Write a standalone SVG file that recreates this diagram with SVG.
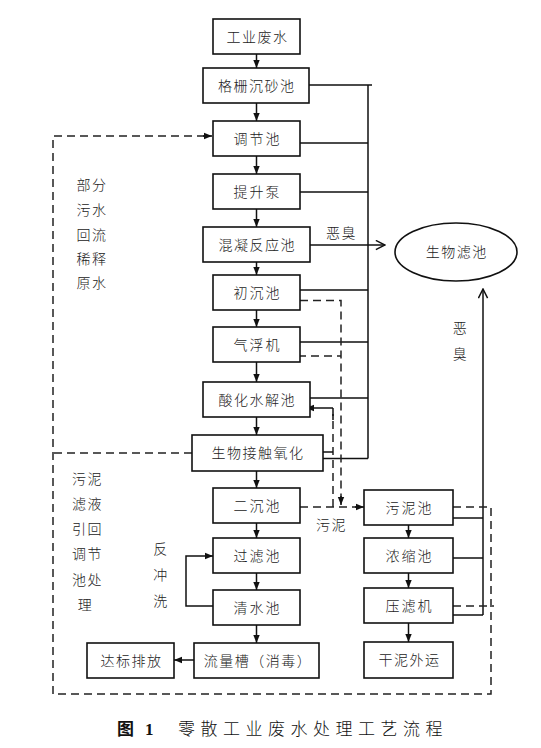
<svg xmlns="http://www.w3.org/2000/svg" width="541" height="748" viewBox="0 0 541 748">
<style>
.b{fill:#fff;stroke:#111;stroke-width:1.6}
.t{font-family:"Noto Sans CJK SC","Noto Sans",sans-serif;font-size:14px;font-weight:300;fill:#222;text-anchor:middle;letter-spacing:1.5px}
.s{font-family:"Noto Sans CJK SC","Noto Sans",sans-serif;font-size:14px;font-weight:300;fill:#222;text-anchor:middle;letter-spacing:2px}
.l{fill:none;stroke:#111;stroke-width:1.5}
.d{fill:none;stroke:#222;stroke-width:1.5;stroke-dasharray:8 5}
.cap{font-family:"Noto Sans CJK SC","Noto Sans",sans-serif;font-size:17px;fill:#111}
</style>
<defs>
<marker id="a" viewBox="0 0 10 10" refX="10" refY="5" markerWidth="8" markerHeight="8" markerUnits="userSpaceOnUse" orient="auto"><path d="M0,1 L10,5 L0,9 z" fill="#111"/></marker>
<marker id="o" viewBox="0 0 12 12" refX="11" refY="6" markerWidth="11" markerHeight="11" markerUnits="userSpaceOnUse" orient="auto"><path d="M1,1 L11,6 L1,11" fill="none" stroke="#111" stroke-width="1.6"/></marker>
</defs>
<rect width="541" height="748" fill="#fff"/>
<g id="connectors">
<path class="l" marker-end="url(#a)" d="M256.5,54 V68"/>
<path class="l" marker-end="url(#a)" d="M256.5,103 V121"/>
<path class="l" marker-end="url(#a)" d="M256.5,156 V174"/>
<path class="l" marker-end="url(#a)" d="M256.5,209 V227"/>
<path class="l" marker-end="url(#a)" d="M256.5,262 V275"/>
<path class="l" marker-end="url(#a)" d="M256.5,310 V327"/>
<path class="l" marker-end="url(#a)" d="M256.5,362 V382"/>
<path class="l" marker-end="url(#a)" d="M256.5,417 V435"/>
<path class="l" marker-end="url(#a)" d="M256.5,471 V488"/>
<path class="l" marker-end="url(#a)" d="M256.5,523 V538"/>
<path class="l" marker-end="url(#a)" d="M256.5,573 V590"/>
<path class="l" marker-end="url(#a)" d="M256.5,625 V643"/>
<path class="l" marker-end="url(#a)" d="M194,660 H174"/>
<path class="l" marker-end="url(#a)" d="M408.5,525 V538"/>
<path class="l" marker-end="url(#a)" d="M408.5,573 V588"/>
<path class="l" marker-end="url(#a)" d="M408.5,623 V642"/>
<path class="l" d="M309,85 H372 M368,85 V458.5 M300,143 H368 M300,192 H368 M300,290 H368 M300,342 H368 M310,398 H368 M323,458.5 H368"/>
<path class="l" marker-end="url(#o)" d="M310,245 H385"/>
<path class="l" d="M453,518 H483 M453,558 H483 M453,615 H483"/>
<path class="l" marker-end="url(#o)" d="M483,615 V289"/>
<path class="d" d="M300,300.5 H341 V497"/>
<path class="l" marker-end="url(#a)" d="M341,496 V505"/>
<path class="d" d="M298,356 H341"/>
<path class="d" d="M300,507 H356"/>
<path class="l" marker-end="url(#a)" d="M355,507 H364"/>
<path class="d" d="M333,507 V414"/>
<path class="l" d="M333,420 V408"/>
<path class="l" marker-end="url(#a)" d="M333,408 H306"/>
<path class="l" marker-end="url(#a)" d="M333,452 H313"/>
<path class="d" d="M453,507 H491 V694 H53 V136 H204"/>
<path class="l" marker-end="url(#a)" d="M203,136 H212"/>
<path class="d" d="M192,453 H53"/>
<path class="d" d="M453,606 H494"/>
<path class="l" marker-end="url(#a)" d="M213,606 H186 V556 H213"/>
</g>
<g id="n1"><rect class="b" x="213" y="19" width="87" height="35"/><text class="t" x="257.5" y="41.5">工业废水</text></g>
<g id="n2"><rect class="b" x="203" y="68" width="106" height="35"/><text class="t" x="256.8" y="90.5">格栅沉砂池</text></g>
<g id="n3"><rect class="b" x="213" y="121" width="87" height="35"/><text class="s" x="257.5" y="143.5">调节池</text></g>
<g id="n4"><rect class="b" x="213" y="174" width="87" height="35"/><text class="s" x="257.5" y="196.5">提升泵</text></g>
<g id="n5"><rect class="b" x="203" y="227" width="107" height="35"/><text class="t" x="257.3" y="249.5">混凝反应池</text></g>
<g id="n6"><rect class="b" x="213" y="275" width="87" height="35"/><text class="s" x="257.5" y="297.5">初沉池</text></g>
<g id="n7"><rect class="b" x="213" y="327" width="87" height="35"/><text class="s" x="257.5" y="349.5">气浮机</text></g>
<g id="n8"><rect class="b" x="203" y="382" width="107" height="35"/><text class="t" x="257.3" y="404.5">酸化水解池</text></g>
<g id="n9"><rect class="b" x="192" y="435" width="131" height="36"/><text class="t" x="258" y="458">生物接触氧化</text></g>
<g id="n10"><rect class="b" x="213" y="488" width="87" height="35"/><text class="s" x="257.5" y="510.5">二沉池</text></g>
<g id="n11"><rect class="b" x="213" y="538" width="87" height="35"/><text class="s" x="257.5" y="560.5">过滤池</text></g>
<g id="n12"><rect class="b" x="213" y="590" width="87" height="35"/><text class="s" x="257.5" y="612.5">清水池</text></g>
<g id="n13"><rect class="b" x="194" y="643" width="125" height="35"/><text class="t" x="258" y="665.5">流量槽（消毒）</text></g>
<g id="n14"><rect class="b" x="87" y="643" width="87" height="35"/><text class="t" x="131.5" y="665.5">达标排放</text></g>
<g id="n15"><rect class="b" x="364" y="490" width="89" height="35"/><text class="s" x="409.5" y="512.5">污泥池</text></g>
<g id="n16"><rect class="b" x="364" y="538" width="89" height="35"/><text class="s" x="409.5" y="560.5">浓缩池</text></g>
<g id="n17"><rect class="b" x="364" y="588" width="89" height="35"/><text class="s" x="409.5" y="610.5">压滤机</text></g>
<g id="n18"><rect class="b" x="364" y="642" width="89" height="36"/><text class="t" x="409.5" y="665">干泥外运</text></g>
<g id="n19"><ellipse class="b" cx="456" cy="252" rx="61" ry="29"/><text class="t" x="456.8" y="257">生物滤池</text></g>
<g id="labels">
<text class="t" x="341.5" y="238">恶臭</text>
<text class="t" x="460.5" y="333">恶</text>
<text class="t" x="460.5" y="359">臭</text>
<text class="t" x="331.5" y="530">污泥</text>
<text class="t" x="92" y="190">部分</text>
<text class="t" x="92" y="215">污水</text>
<text class="t" x="92" y="240">回流</text>
<text class="t" x="92" y="264">稀释</text>
<text class="t" x="92" y="288">原水</text>
<text class="t" x="87.5" y="484">污泥</text>
<text class="t" x="87.5" y="509">滤液</text>
<text class="t" x="87.5" y="534">引回</text>
<text class="t" x="87.5" y="559">调节</text>
<text class="t" x="87.5" y="585">池处</text>
<text class="t" x="85.5" y="610">理</text>
<text class="t" x="161" y="554">反</text>
<text class="t" x="161" y="580">冲</text>
<text class="t" x="161" y="606">洗</text>
</g>
<g id="caption">
<text class="cap" x="117" y="735" font-weight="bold">图</text>
<text class="cap" x="145" y="735" style="font-family:'Liberation Serif',serif;font-weight:bold">1</text>
<text class="cap" x="178" y="735" letter-spacing="5.5" style="font-weight:300">零散工业废水处理工艺流程</text>
</g>
</svg>
